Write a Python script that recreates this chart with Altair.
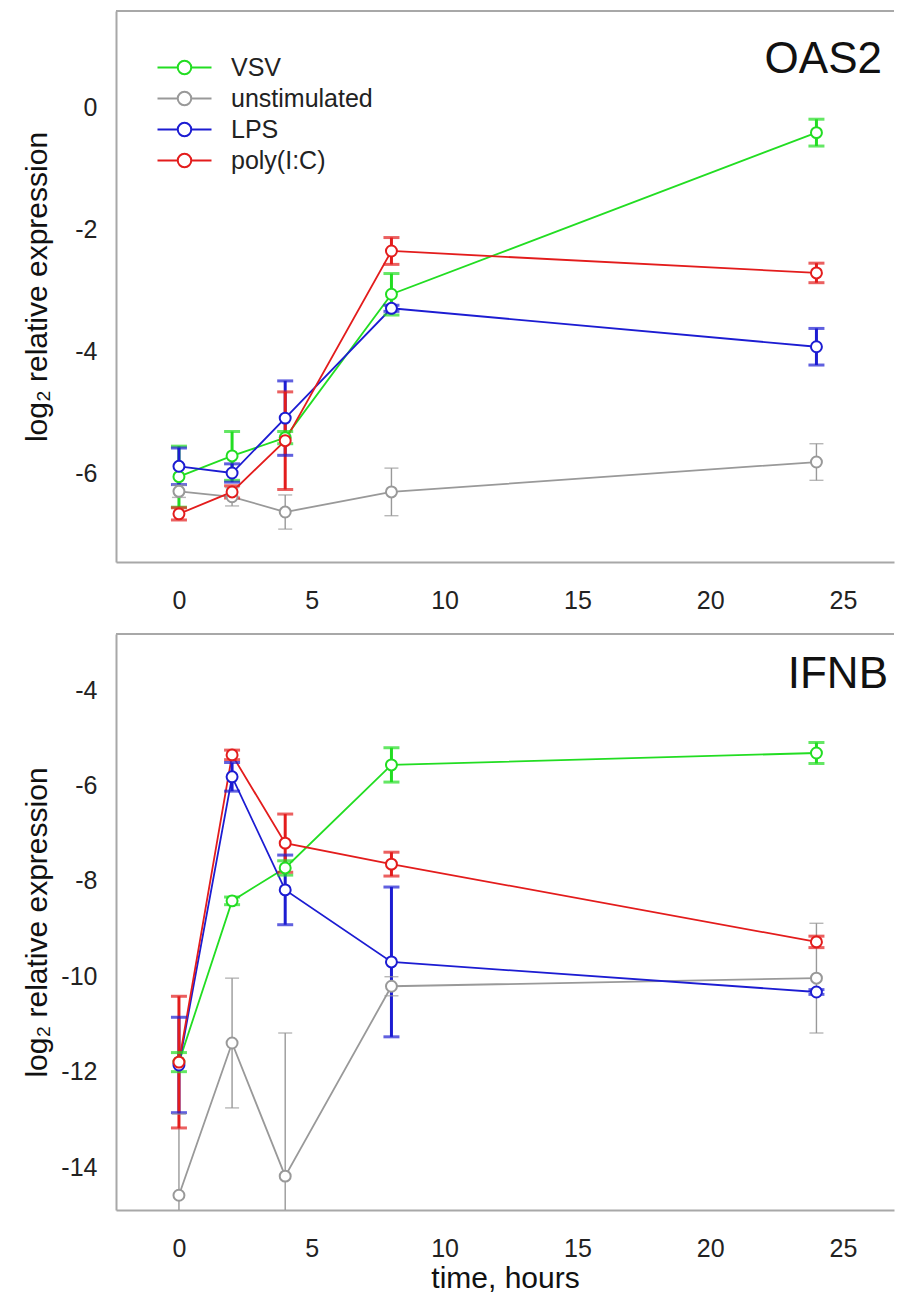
import altair as alt
import pandas as pd

# ---------------- data ----------------
times = [0, 2, 4, 8, 24]
series_names = ["VSV", "unstimulated", "LPS", "poly(I:C)"]
series_colors = ["#22dd22", "#999999", "#1c1cd2", "#e31c1c"]

# OAS2 panel: means and error half-widths (VSV, unstimulated, LPS, poly(I:C))
oas2_vsv = [-6.06, -5.72, -5.42, -3.07, -0.42]
oas2_vsv_err = [0.50, 0.40, 0.10, 0.34, 0.22]
oas2_unstim = [-6.30, -6.39, -6.64, -6.31, -5.82]
oas2_unstim_err = [0.10, 0.15, 0.28, 0.39, 0.30]
oas2_lps = [-5.89, -6.00, -5.10, -3.30, -3.93]
oas2_lps_err = [0.30, 0.15, 0.61, 0.05, 0.30]
oas2_poly = [-6.67, -6.31, -5.47, -2.36, -2.72]
oas2_poly_err = [0.10, 0.10, 0.80, 0.22, 0.16]

# IFNB panel
ifnb_vsv = [-11.80, -8.42, -7.73, -5.57, -5.32]
ifnb_vsv_err = [0.20, 0.08, 0.15, 0.36, 0.22]
ifnb_unstim = [-14.59, -11.40, -14.19, -10.21, -10.04]
ifnb_unstim_err = [1.70, 1.36, 3.00, 0.20, 1.15]
ifnb_lps = [-11.86, -5.82, -8.19, -9.70, -10.33]
ifnb_lps_err = [1.00, 0.30, 0.73, 1.57, 0.05]
ifnb_poly = [-11.80, -5.36, -7.21, -7.65, -9.28]
ifnb_poly_err = [1.38, 0.10, 0.61, 0.25, 0.12]

x_ticks = [0, 5, 10, 15, 20, 25]
oas2_y_ticks = [0, -2, -4, -6]
ifnb_y_ticks = [-4, -6, -8, -10, -12, -14]
panel_names = ["OAS2", "IFNB"]


def make_df(means, errs):
    rows = []
    for name, m, e in zip(series_names, means, errs):
        for t, v, s in zip(times, m, e):
            rows.append({"series": name, "time": t, "value": v, "lo": v - s, "hi": v + s})
    return pd.DataFrame(rows)


df_oas2 = make_df([oas2_vsv, oas2_unstim, oas2_lps, oas2_poly],
                  [oas2_vsv_err, oas2_unstim_err, oas2_lps_err, oas2_poly_err])
df_ifnb = make_df([ifnb_vsv, ifnb_unstim, ifnb_lps, ifnb_poly],
                  [ifnb_vsv_err, ifnb_unstim_err, ifnb_lps_err, ifnb_poly_err])

# ---------------- style ----------------
FONT = "Liberation Sans"
FRAME = "#a8a8a8"
LEGEND_SYMBOL = "M-2,0L-0.5,0M0.5,0L2,0M0.5,0A0.5,0.5,0,1,1,-0.5,0A0.5,0.5,0,1,1,0.5,0"
cscale = alt.Scale(domain=series_names, range=series_colors)


def panel(df, gene, ydom, yvals, xdom, w, h, xtitle, ytitle_x, gx, gy, show_legend):
    xs = alt.Scale(domain=xdom, nice=False, zero=False)
    ys = alt.Scale(domain=ydom, nice=False, zero=False)

    xaxis_kw = dict(values=x_ticks, labelExpr="'' + datum.value", labelFontSize=25,
                    labelPadding=26, ticks=False, tickSize=0, grid=False,
                    domainColor=FRAME, domainWidth=2, labelColor="#222")
    if xtitle:
        x_axis = alt.Axis(title=xtitle, titleFontSize=30, titleY=77,
                          titleBaseline="alphabetic", **xaxis_kw)
    else:
        x_axis = alt.Axis(title=None, **xaxis_kw)

    y_axis = alt.Axis(values=yvals, labelExpr="'' + datum.value", labelFontSize=25,
                      labelPadding=19, ticks=False, tickSize=0, grid=False,
                      domainColor=FRAME, domainWidth=2, labelColor="#222",
                      title="log₂ relative expression", titleFontSize=30,
                      titleX=ytitle_x, titleY=h / 2, titleAngle=270,
                      titleAlign="center", titleBaseline="alphabetic")

    base = alt.Chart(df)
    color = alt.Color("series:N", scale=cscale, legend=None)
    xq = alt.X("time:Q", scale=xs)

    lines = base.mark_line(strokeWidth=1.8).encode(
        x=alt.X("time:Q", scale=xs, axis=x_axis),
        y=alt.Y("value:Q", scale=ys, axis=y_axis),
        color=color,
    )
    # top edge of the frame
    top_edge = base.mark_rule(color=FRAME, strokeWidth=2).encode(
        x=alt.X(datum=xdom[0], scale=xs),
        x2=alt.datum(xdom[1]),
        y=alt.value(0),
    )
    bars = base.mark_rule(clip=True).encode(
        x=xq,
        y=alt.Y("lo:Q", scale=ys),
        y2="hi:Q",
        color=color,
        strokeWidth=alt.condition("datum.series == 'unstimulated'", alt.value(1.4), alt.value(3)),
    )
    colored = base.transform_filter("datum.series != 'unstimulated'")
    grey = base.transform_filter("datum.series == 'unstimulated'")
    caps = []
    for src, sz, th in [(colored, 16, 3), (grey, 14, 1.4)]:
        for fld in ["lo", "hi"]:
            caps.append(src.mark_tick(orient="horizontal", size=sz, thickness=th, clip=True).encode(
                x=xq,
                y=alt.Y(f"{fld}:Q", scale=ys),
                color=color,
            ))
    if show_legend:
        legend = alt.Legend(orient="none", legendX=54, legendY=42, title=None,
                            symbolType=LEGEND_SYMBOL, symbolSize=729, symbolStrokeWidth=2,
                            symbolFillColor="white", labelFontSize=25, labelFont=FONT,
                            labelOffset=32, rowPadding=3, labelColor="#222")
    else:
        legend = None
    points = base.mark_point(shape="circle", size=120, strokeWidth=2, fill="white",
                             filled=False, opacity=1).encode(
        x=xq,
        y=alt.Y("value:Q", scale=ys),
        stroke=alt.Stroke("series:N", scale=cscale, legend=legend),
    )
    label = alt.Chart(pd.DataFrame({"name": [gene]})).mark_text(
        font=FONT, fontSize=44, align="right", baseline="alphabetic", color="#111"
    ).encode(text="name:N", x=alt.value(gx), y=alt.value(gy))
    return alt.layer(lines, top_edge, bars, *caps, points, label).properties(width=w, height=h)


top = panel(df_oas2, panel_names[0], [-7.459, 1.574], oas2_y_ticks, [-2.37, 26.92],
            778, 551, None, -70, 766, 62, True)
bottom = panel(df_ifnb, panel_names[1], [-14.90, -2.826], ifnb_y_ticks, [-2.37, 26.92],
               778, 576, "time, hours", -70, 772, 54, False)

chart = alt.vconcat(top, bottom, spacing=20).resolve_legend(stroke="independent").properties(
    padding={"left": 13, "top": 2, "right": 0, "bottom": 0}
).configure_view(stroke=None).configure_axis(
    labelFont=FONT, titleFont=FONT, titleFontWeight="normal", titleColor="#111"
)

chart.save("out.html", embed_options={"renderer": "svg", "actions": False})
